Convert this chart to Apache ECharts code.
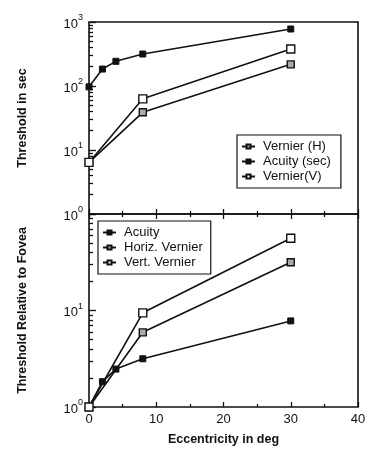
<!DOCTYPE html>
<html><head><meta charset="utf-8">
<script src="https://cdn.jsdelivr.net/npm/echarts@6/dist/echarts.min.js"></script>
<style>html,body{margin:0;padding:0;background:#fff}#c{width:384px;height:451px}</style>
</head><body><div id="c"></div>
<script>
// ---- data ----
const eccAcuity = [0, 2, 4, 8, 30];
const eccVernier = [0, 8, 30];
const acuitySec = [97, 184, 243, 316, 777];
const vernierH = [6.4, 38.8, 218];
const vernierV = [6.4, 63, 378];
const acuityRel = [1, 1.83, 2.47, 3.16, 7.8];
const horizRel = [1, 5.94, 31.6];
const vertRel = [1, 9.46, 56];
const topMajor = [1, 10, 100, 1000];
const topLabels = [1, 10, 100, 1000];
const botMajor = [1, 10, 100];
const botLabels = [1, 10];
const xTickLabels = [0, 10, 20, 30, 40];
const minorTop = [2,3,4,5,6,7,8,9,20,30,40,50,60,70,80,90,200,300,400,500,600,700,800,900];
const minorBot = [2,3,4,5,6,7,8,9,20,30,40,50,60,70,80,90];

const FONT = 'Liberation Sans';
const pair = (xs, ys) => xs.map((x, i) => [x, ys[i]]);
const supFmt = v => '{b|10}{s|' + Math.round(Math.log10(v)) + '}';
const richLab = {
  b: { fontSize: 13, fontFamily: FONT, color: '#111', verticalAlign: 'bottom', lineHeight: 17 },
  s: { fontSize: 9, fontFamily: FONT, color: '#111', verticalAlign: 'top', lineHeight: 17 }
};

const lineW = 1.6;
const styles = {
  acuity: { symbol: 'rect', symbolSize: 6, itemStyle: { color: '#111', borderColor: '#111', borderWidth: 1 } },
  horiz: { symbol: 'rect', symbolSize: 7, itemStyle: { color: '#aaa', borderColor: '#111', borderWidth: 1.4 } },
  vert: { symbol: 'rect', symbolSize: 8, itemStyle: { color: '#fff', borderColor: '#111', borderWidth: 1.4 } }
};
function ser(name, data, st, xi, yi) {
  return Object.assign({
    type: 'line', name, data, xAxisIndex: xi, yAxisIndex: yi,
    lineStyle: { color: '#111', width: lineW }, showSymbol: true, z: 3, animation: false
  }, st);
}

const xCommon = {
  type: 'value', min: 0, max: 40, interval: 10,
  axisLine: { show: false, onZero: false },
  splitLine: { show: false },
  axisTick: { show: true, inside: true, length: 5, lineStyle: { color: '#111', width: 1.3 } },
  minorTick: { show: true, splitNumber: 2, length: 3, lineStyle: { color: '#111', width: 1.3 } }
};
function yAx(grid, max, ticks, len, labels, name) {
  const a = {
    gridIndex: grid, type: 'log', logBase: 10, min: 1, max: max, position: 'left',
    axisLine: { show: false, onZero: false }, splitLine: { show: false },
    axisTick: { show: true, inside: true, length: len, customValues: ticks, lineStyle: { color: '#111', width: 1.3 } },
    axisLabel: labels ? { show: true, customValues: labels, formatter: supFmt, rich: richLab, margin: 6 } : { show: false }
  };
  if (name) Object.assign(a, { name, nameLocation: 'middle', nameGap: 60, nameTextStyle: nameStyle });
  return a;
}
const nameStyle = { fontFamily: FONT, fontSize: 12.5, fontWeight: 'bold', color: '#111' };
const legendText = { fontFamily: FONT, fontSize: 13, color: '#111', padding: [0, 0, 0, 3] };

const chart = echarts.init(document.getElementById('c'), null, { renderer: 'canvas' });
chart.setOption({
  animation: false,
  backgroundColor: '#fff',
  grid: [
    { left: 89, top: 22, width: 269, height: 192, show: true, borderColor: '#111', borderWidth: 1.6, backgroundColor: 'transparent' },
    { left: 89, top: 214, width: 269, height: 193, show: true, borderColor: '#111', borderWidth: 1.6, backgroundColor: 'transparent' }
  ],
  xAxis: [
    Object.assign({}, xCommon, { gridIndex: 0, position: 'bottom', axisLabel: { show: false } }),
    Object.assign({}, xCommon, { gridIndex: 1, position: 'bottom',
      axisLabel: { show: true, customValues: xTickLabels, fontFamily: FONT, fontSize: 13, color: '#111', margin: 6 },
      name: 'Eccentricity in deg', nameLocation: 'middle', nameGap: 26, nameTextStyle: nameStyle }),
    Object.assign({}, xCommon, { gridIndex: 1, position: 'top', axisLabel: { show: false } })
  ],
  yAxis: [
    yAx(0, 1000, topMajor, 7, topLabels, 'Threshold in sec'),
    yAx(0, 1000, minorTop, 4, null, null),
    yAx(1, 100, botMajor, 7, botLabels, 'Threshold Relative to Fovea'),
    yAx(1, 100, minorBot, 4, null, null)
  ],
  legend: [
    { data: ['Vernier (H)', 'Acuity (sec)', 'Vernier(V)'], orient: 'vertical',
      left: 237, top: 135, padding: [5, 10, 5, 4], itemGap: 2,
      itemWidth: 13, itemHeight: 5, borderColor: '#111', borderWidth: 1.2, backgroundColor: '#fff',
      textStyle: legendText, selectedMode: false },
    { data: ['Acuity', 'Horiz. Vernier', 'Vert. Vernier'], orient: 'vertical',
      left: 98, top: 221, padding: [5, 8, 5, 4], itemGap: 2,
      itemWidth: 13, itemHeight: 5, borderColor: '#111', borderWidth: 1.2, backgroundColor: '#fff',
      textStyle: legendText, selectedMode: false }
  ],
  series: [
    ser('Vernier (H)', pair(eccVernier, vernierH), styles.horiz, 0, 0),
    ser('Acuity (sec)', pair(eccAcuity, acuitySec), styles.acuity, 0, 0),
    ser('Vernier(V)', pair(eccVernier, vernierV), styles.vert, 0, 0),
    ser('Acuity', pair(eccAcuity, acuityRel), styles.acuity, 1, 2),
    ser('Horiz. Vernier', pair(eccVernier, horizRel), styles.horiz, 1, 2),
    ser('Vert. Vernier', pair(eccVernier, vertRel), styles.vert, 1, 2)
  ]
});
</script></body></html>
